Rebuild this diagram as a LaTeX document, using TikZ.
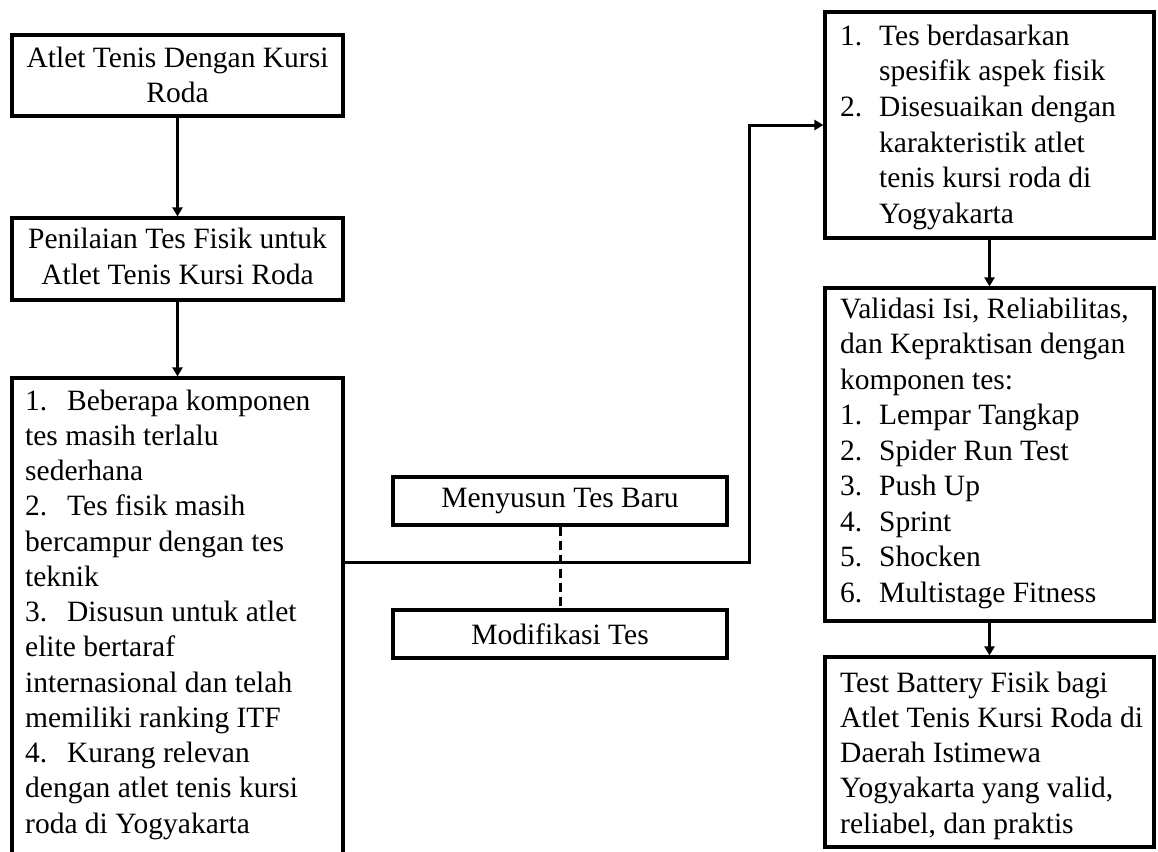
\documentclass[tikz,border=0pt]{standalone}
\usepackage{fontspec}
\setmainfont{Liberation Serif}
\usetikzlibrary{arrows.meta}
\begin{document}
\begin{tikzpicture}[x=1pt,y=-1pt,
  boxnode/.style={draw, line width=3.2pt, inner sep=0pt, outer sep=1.6pt, rectangle},
  txt/.style={inner sep=0pt, font=\fontsize{29.5}{35}\selectfont},
  conn/.style={line width=3pt},
  arr/.style={conn, -{Triangle[length=9pt,width=10pt]}}]
\useasboundingbox (0,0) rectangle (1158,851);
\clip (0,0) rectangle (1158,851);
% left column
\node[boxnode, minimum width=331pt, minimum height=81pt] (b1) at (177.5,75.5) {};
\node[boxnode, minimum width=331pt, minimum height=82pt] (b2) at (177.5,259) {};
\node[boxnode, minimum width=331pt, minimum height=522pt] (b3) at (177.5,639) {};
\node[txt, anchor=north, align=center] (t1) at (177.5,45) {\rule{0pt}{22pt}Atlet Tenis Dengan Kursi\\Roda};
\node[txt, anchor=north, align=center, font=\fontsize{29.5}{36}\selectfont] (t2) at (177.5,226) {\rule{0pt}{22pt}Penilaian Tes Fisik untuk\\Atlet Tenis Kursi Roda};
\node[txt, anchor=north west, align=left, font=\fontsize{29.5}{35.25}\selectfont] (t3) at (25,388) {\rule{0pt}{22pt}\makebox[42pt][l]{1.}Beberapa komponen\\
tes masih terlalu\\
sederhana\\
\makebox[42pt][l]{2.}Tes fisik masih\\
bercampur dengan tes\\
teknik\\
\makebox[42pt][l]{3.}Disusun untuk atlet\\
elite bertaraf\\
internasional dan telah\\
memiliki ranking ITF\\
\makebox[42pt][l]{4.}Kurang relevan\\
dengan atlet tenis kursi\\
roda di Yogyakarta};
% middle
\node[boxnode, minimum width=334pt, minimum height=48pt, font=\fontsize{29.5}{35}\selectfont] (m1) at (560,501) {Menyusun Tes Baru};
\node[boxnode, minimum width=334pt, minimum height=48pt, font=\fontsize{29.5}{35}\selectfont] (m2) at (560,634) {Modifikasi Tes};
% right column
\node[boxnode, minimum width=329pt, minimum height=226pt] (b4) at (989.5,125) {};
\node[boxnode, minimum width=329pt, minimum height=333pt] (b5) at (989.5,454.5) {};
\node[boxnode, minimum width=329pt, minimum height=190pt] (b6) at (989.5,752) {};
\node[txt, anchor=north west, align=left, font=\fontsize{29.5}{35.6}\selectfont] (t4) at (840,23) {\rule{0pt}{22pt}\makebox[39pt][l]{1.}Tes berdasarkan\\
\hspace*{39pt}spesifik aspek fisik\\
\makebox[39pt][l]{2.}Disesuaikan dengan\\
\hspace*{39pt}karakteristik atlet\\
\hspace*{39pt}tenis kursi roda di\\
\hspace*{39pt}Yogyakarta};
\node[txt, anchor=north west, align=left, font=\fontsize{29.5}{35.5}\selectfont] (t5) at (840,296) {\rule{0pt}{22pt}Validasi Isi, Reliabilitas,\\
dan Kepraktisan dengan\\
komponen tes:\\
\makebox[39pt][l]{1.}Lempar Tangkap\\
\makebox[39pt][l]{2.}Spider Run Test\\
\makebox[39pt][l]{3.}Push Up\\
\makebox[39pt][l]{4.}Sprint\\
\makebox[39pt][l]{5.}Shocken\\
\makebox[39pt][l]{6.}Multistage Fitness};
\node[txt, anchor=north west, align=left, font=\fontsize{29.5}{35.25}\selectfont] (t6) at (840,670) {\rule{0pt}{22pt}Test Battery Fisik bagi\\
Atlet Tenis Kursi Roda di\\
Daerah Istimewa\\
Yogyakarta yang valid,\\
reliabel, dan praktis};
% connectors
\coordinate (j1) at (749,562);
\draw[arr] (b1.south) -- (b2.north);
\draw[arr] (b2.south) -- (b3.north);
\draw[arr] (b3.east |- j1) -- (j1) |- (b4.west);
\draw[conn, dash pattern=on 9pt off 5pt] (m1.south) -- (m2.north);
\draw[arr] (b4.south) -- (b5.north);
\draw[arr] (b5.south) -- (b6.north);
\end{tikzpicture}
\end{document}
